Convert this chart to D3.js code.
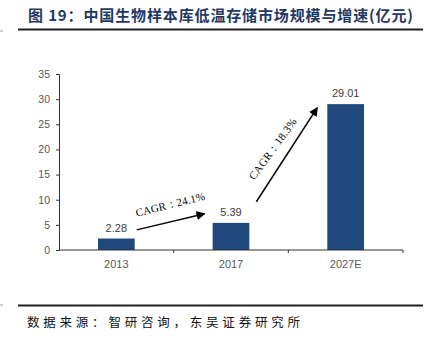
<!DOCTYPE html>
<html><head><meta charset="utf-8">
<script src="https://cdn.jsdelivr.net/npm/d3@7"></script>
<style>body{margin:0;background:#fff;}svg{display:block;}</style>
</head><body>
<script>
const categories = ["2013", "2017", "2027E"];
const values = [2.28, 5.39, 29.01];
const yTicks = [0, 5, 10, 15, 20, 25, 30, 35];
const cagrLabels = ["CAGR：24.1%", "CAGR：18.3%"];
const titleText = "图 19：中国生物样本库低温存储市场规模与增速(亿元)";
const sourceText = "数据来源：智研咨询，东吴证券研究所";

const W = 432, H = 342;
const svg = d3.select("body").append("svg").attr("width", W).attr("height", H);

// title
svg.append("text").attr("x", 28).attr("y", 20.5)
  .attr("font-family", "Noto Sans CJK SC").attr("font-weight", "bold")
  .attr("font-size", 15).attr("fill", "#1f3864")
  .attr("textLength", 385).attr("lengthAdjust", "spacing")
  .text(titleText);
svg.append("line").attr("x1", 18).attr("x2", 423).attr("y1", 29.5).attr("y2", 29.5)
  .attr("stroke", "#222").attr("stroke-width", 2);
svg.append("line").attr("x1", 0).attr("x2", 3).attr("y1", 31).attr("y2", 31).attr("stroke", "#999");

// scales
const x = d3.scaleBand().domain(categories).range([59, 403]).paddingInner(0.68).paddingOuter(0.34);
const y = d3.scaleLinear().domain([0, 35]).range([250, 74]);

const g = svg.append("g");

// bars
g.selectAll("rect.bar").data(values).join("rect")
  .attr("x", (d, i) => x(categories[i]))
  .attr("y", d => y(d))
  .attr("width", x.bandwidth())
  .attr("height", d => y(0) - y(d))
  .attr("fill", "#1f497d");

// value labels
g.selectAll("text.val").data(values).join("text")
  .attr("x", (d, i) => x(categories[i]) + x.bandwidth() / 2)
  .attr("y", d => y(d) - 7)
  .attr("text-anchor", "middle")
  .attr("font-family", "Liberation Sans, Arial").attr("font-size", 11).attr("fill", "#404040")
  .text(d => d.toFixed(2));

// y axis
const yAxis = g.append("g").attr("transform", "translate(59,0)")
  .call(d3.axisLeft(y).tickValues(yTicks).tickSize(3).tickPadding(6));
yAxis.selectAll("text").attr("font-family", "Liberation Sans, Arial").attr("font-size", 10.5).attr("fill", "#595959");
yAxis.selectAll("line,path").attr("stroke", "#333");

// x axis
const xAxis = g.append("g").attr("transform", "translate(0,250)")
  .call(d3.axisBottom(x).tickSize(0).tickPadding(10));
xAxis.select("path").attr("stroke", "#333").attr("d", "M59,0H403");
xAxis.selectAll("text").attr("font-family", "Liberation Sans, Arial").attr("font-size", 11).attr("fill", "#595959");
const step = x.step();
const bounds = d3.range(categories.length + 1).map(i => 59 + i * step);
xAxis.selectAll("line.bnd").data(bounds.slice(1)).join("line").attr("class", "bnd")
  .attr("x1", d => d).attr("x2", d => d).attr("y1", 0).attr("y2", 3).attr("stroke", "#333");

// arrows
const defs = svg.append("defs");
defs.append("marker").attr("id", "ah").attr("viewBox", "0 0 10 10").attr("refX", 9).attr("refY", 5)
  .attr("markerWidth", 9).attr("markerHeight", 9).attr("markerUnits", "userSpaceOnUse").attr("orient", "auto")
  .append("path").attr("d", "M0,0L10,5L0,10z").attr("fill", "#000");

const bw = x.bandwidth();
const arrows = [
  {x1: x("2013") + bw + 2, y1: y(4.0), x2: x("2017") - 8, y2: y(7.2)},
  {x1: x("2017") + bw + 7, y1: y(9.6), x2: x("2027E") - 10, y2: y(28.3)}
];
arrows.forEach((a, i) => {
  g.append("line").attr("x1", a.x1).attr("y1", a.y1).attr("x2", a.x2).attr("y2", a.y2)
    .attr("stroke", "#000").attr("stroke-width", 1.5).attr("marker-end", "url(#ah)");
});
// labels along arrows
const l1x = x("2013") + bw + 2, l1y = y(6.6);
g.append("text").attr("transform", `translate(${l1x},${l1y}) rotate(-14)`)
  .attr("font-family", "Liberation Serif, serif").attr("font-size", 11).attr("fill", "#000")
  .attr("textLength", 71).attr("lengthAdjust", "spacing")
  .text(cagrLabels[0]);
const l2x = x("2017") + bw + 5, l2y = y(13.8);
g.append("text").attr("transform", `translate(${l2x},${l2y}) rotate(-54)`)
  .attr("font-family", "Liberation Serif, serif").attr("font-size", 11).attr("fill", "#000")
  .attr("textLength", 73).attr("lengthAdjust", "spacing")
  .text(cagrLabels[1]);

// footer
svg.append("line").attr("x1", 18).attr("x2", 423).attr("y1", 305.5).attr("y2", 305.5)
  .attr("stroke", "#222").attr("stroke-width", 2);
svg.append("line").attr("x1", 0).attr("x2", 3).attr("y1", 305).attr("y2", 305).attr("stroke", "#999");
svg.append("text").attr("x", 27).attr("y", 327)
  .attr("font-family", "Noto Sans CJK SC").attr("font-size", 12.5).attr("fill", "#111")
  .attr("textLength", 273).attr("lengthAdjust", "spacing")
  .text(sourceText);
</script>
</body></html>
